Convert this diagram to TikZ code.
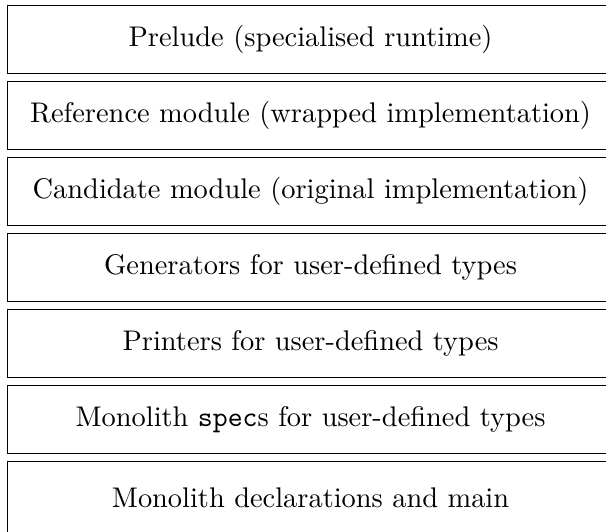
\documentclass[tikz,border=0pt]{standalone}
\usepackage{tikz}
\usetikzlibrary{positioning}

\tikzset{layer/.style={draw, rectangle, inner sep=0pt, minimum width=606*0.352pt, minimum height=68*0.352pt}}

\begin{document}
\begin{tikzpicture}[x=0.352pt,y=-0.352pt, node distance=7*0.352pt]
\useasboundingbox (0,0) rectangle (606,531);

    %couches
    \node[layer, anchor=north west] (prelude) at (7,4.5) {Prelude (specialised runtime)};
    \node[layer, below=of prelude] (reference) {Reference module (wrapped implementation)};
    \node[layer, below=of reference] (candidate) {Candidate module (original implementation)};
    \node[layer, below=of candidate] (generators) {Generators for user-defined types};
    \node[layer, below=of generators] (printers) {Printers for user-defined types};
    \node[layer, below=of printers] (specs) {Monolith \texttt{spec}s for user-defined types};

    %dernier bloc, coupe en bas
    \node[layer, below=of specs, minimum height=72*0.352pt] (main) {Monolith declarations and main};

\end{tikzpicture}
\end{document}
